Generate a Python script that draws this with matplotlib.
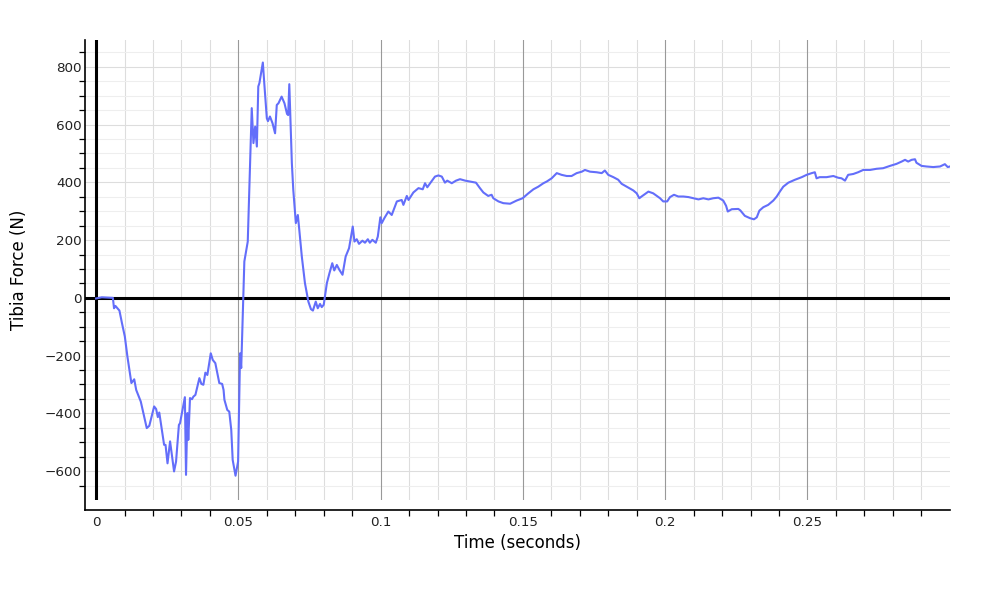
import matplotlib
matplotlib.use("Agg")
import matplotlib.pyplot as plt
import numpy as np

# in seconds and newtons
time_impact = [0.0, 0.002, 0.004, 0.0059, 0.0063, 0.0068, 0.0082, 0.0091, 0.0101, 0.011,
               0.0124, 0.0134, 0.0141, 0.0157, 0.0178, 0.0187, 0.0204, 0.0211, 0.0217, 0.0222,
               0.0239, 0.0244, 0.0251, 0.026, 0.0274, 0.0281, 0.0291, 0.0295, 0.0312, 0.0316,
               0.0321, 0.0324, 0.033, 0.0337, 0.0342, 0.0349, 0.0363, 0.037, 0.0377, 0.0384,
               0.0391, 0.0403, 0.041, 0.0419, 0.0433, 0.0443, 0.0448, 0.0451, 0.0461, 0.0468,
               0.0475, 0.048, 0.049, 0.0499, 0.0502, 0.0506, 0.051, 0.0516, 0.0521, 0.0533]
force_impact = [-2, 2, 1, 0, -36, -28, -44, -88, -134, -203,
                -295, -282, -319, -359, -451, -443, -376, -385, -413, -397,
                -509, -509, -573, -497, -601, -567, -440, -434, -344, -613,
                -399, -492, -347, -351, -342, -336, -278, -298, -301, -259,
                -267, -192, -215, -226, -295, -298, -319, -353, -388, -394,
                -457, -561, -616, -567, -399, -192, -243, -40, 126, 195]

time_rebound = [0.0547, 0.0553, 0.0559, 0.0565, 0.057, 0.0574, 0.0586, 0.0591, 0.06, 0.0604,
                0.0611, 0.062, 0.0629, 0.0635, 0.0641, 0.0652, 0.0662, 0.0671, 0.0675, 0.0679,
                0.0688, 0.0693, 0.0702, 0.0709, 0.0713, 0.0723, 0.0734, 0.0746, 0.0755, 0.0762,
                0.0772, 0.0779, 0.0787, 0.0793, 0.08, 0.0811, 0.082, 0.083, 0.0837, 0.0846,
                0.0855, 0.0866, 0.0877, 0.0889, 0.0902, 0.0908, 0.0916, 0.0924, 0.0936, 0.0945,
                0.0955, 0.0962, 0.0971, 0.0983, 0.099, 0.0999, 0.1004]
force_rebound = [657, 536, 593, 524, 732, 744, 815, 744, 622, 612,
                 628, 605, 570, 668, 674, 697, 674, 637, 633, 740,
                 466, 374, 259, 287, 247, 143, 51, -13, -39, -44,
                 -13, -36, -21, -32, -24, 51, 85, 120, 95, 114,
                 97, 80, 143, 172, 247, 195, 203, 187, 198, 191,
                 203, 191, 201, 191, 212, 279, 259]

time_settle = [0.1013, 0.1027, 0.1039, 0.1057, 0.1074, 0.108, 0.1092, 0.1098, 0.1115, 0.1133,
               0.1148, 0.1156, 0.1164, 0.1174, 0.1191, 0.1203, 0.1215, 0.1226, 0.1234, 0.125,
               0.1265, 0.1279, 0.1297, 0.1314, 0.1335, 0.1349, 0.1361, 0.1378, 0.139, 0.1396,
               0.1414, 0.1431, 0.1455, 0.1478, 0.1499, 0.1519, 0.1537, 0.1554, 0.1572, 0.1584,
               0.1601, 0.1619, 0.1636, 0.1654, 0.1671, 0.1689, 0.1707, 0.1718, 0.1736, 0.1759,
               0.1777, 0.1788, 0.18, 0.1818, 0.1835, 0.1847, 0.1865, 0.1888, 0.19, 0.1909,
               0.1917, 0.1941, 0.1958, 0.1982, 0.1993, 0.2007]
force_settle = [276, 299, 287, 334, 339, 322, 353, 339, 365, 380,
                376, 397, 383, 397, 420, 424, 420, 399, 406, 397,
                406, 411, 406, 403, 399, 380, 365, 353, 357, 345,
                334, 328, 326, 337, 345, 362, 376, 385, 397, 403,
                414, 432, 426, 422, 422, 432, 437, 443, 437, 435,
                432, 441, 426, 418, 409, 395, 385, 372, 362, 345,
                351, 368, 362, 345, 334, 334]

time_tail = [0.2017, 0.2031, 0.2046, 0.2064, 0.2082, 0.2099, 0.2117, 0.2134, 0.2152, 0.2169,
             0.2187, 0.2204, 0.2214, 0.222, 0.2234, 0.2257, 0.2264, 0.228, 0.2298, 0.2312,
             0.2322, 0.2331, 0.2345, 0.2362, 0.238, 0.2392, 0.2403, 0.2415, 0.2433, 0.2456,
             0.248, 0.2497, 0.2515, 0.2526, 0.2532, 0.2543, 0.2567, 0.2591, 0.2608, 0.262,
             0.2632, 0.2643, 0.2661, 0.2678, 0.2696, 0.272, 0.2743, 0.2766, 0.279, 0.2813,
             0.2831, 0.2843, 0.2854, 0.2866, 0.2878, 0.2883, 0.2901, 0.2918, 0.2942, 0.2966,
             0.2983, 0.2993, 0.3001]
force_tail = [349, 357, 351, 351, 349, 345, 341, 345, 341, 345,
              347, 337, 319, 299, 307, 308, 303, 284, 276, 272,
              279, 302, 314, 322, 337, 351, 368, 385, 399, 409,
              418, 426, 432, 435, 414, 418, 418, 422, 416, 414,
              406, 426, 429, 435, 443, 443, 447, 449, 457, 464,
              472, 478, 472, 478, 480, 468, 457, 455, 453, 455,
              463, 453, 455]

x_major = [0, 0.05, 0.1, 0.15, 0.2, 0.25]
x_labels = ["0", "0.05", "0.1", "0.15", "0.2", "0.25"]
y_major = [-600, -400, -200, 0, 200, 400, 600, 800]

time = np.concatenate([time_impact, time_rebound, time_settle, time_tail])
force = np.concatenate([force_impact, force_rebound, force_settle, force_tail])

plt.rcParams["font.family"] = ["DejaVu Sans"]
fig = plt.figure(figsize=(10, 6), dpi=100)
ax = fig.add_axes([0.085, 1 - 500 / 600, 0.865, 460 / 600])

xlim = (-0.0039, 0.3001)
ylim = (-700, 893)
ax.set_xlim(*xlim)
ax.set_ylim(*ylim)

ax.set_xticks(x_major)
ax.set_xticklabels(x_labels)
ax.set_xticks(np.arange(0, 0.3, 0.01), minor=True)
ax.set_yticks(y_major)
ax.set_yticks(np.arange(-650, 900, 50), minor=True)

ax.grid(axis="x", which="minor", color="#dddddd", linewidth=0.8)
ax.grid(axis="y", which="major", color="#dddddd", linewidth=0.8)
ax.grid(axis="y", which="minor", color="#eeeeee", linewidth=0.8)
ax.set_axisbelow(True)
# darker major time gridlines sit on top of the light horizontal grid
for xm in x_major:
    ax.axvline(xm, color="#999999", linewidth=0.8, zorder=1)

ax.axhline(0, color="black", linewidth=2.2, zorder=3)
ax.axvline(0, color="black", linewidth=2.2, zorder=3)
ax.plot(time, force, color="#636efa", linewidth=1.5, zorder=4)

for side in ["top", "right"]:
    ax.spines[side].set_visible(False)
ax.spines["bottom"].set_position(("outward", 7.2))
gap = 10 / 460 * (ylim[1] - ylim[0])
ax.spines["left"].set_bounds(ylim[0] - gap, ylim[1])
ax.spines["left"].set_linewidth(1.2)
ax.spines["bottom"].set_linewidth(1.2)

ax.tick_params(which="major", length=0, labelsize=9.7, pad=4, labelcolor="#222222")
ax.tick_params(axis="y", which="major", pad=2.5)
ax.tick_params(which="minor", length=4.5, width=0.9, color="black")

ax.set_xlabel("Time (seconds)", fontsize=12, labelpad=4)
ax.set_ylabel("Tibia Force (N)", fontsize=12, labelpad=12)

fig.savefig("out.png", dpi=100)
